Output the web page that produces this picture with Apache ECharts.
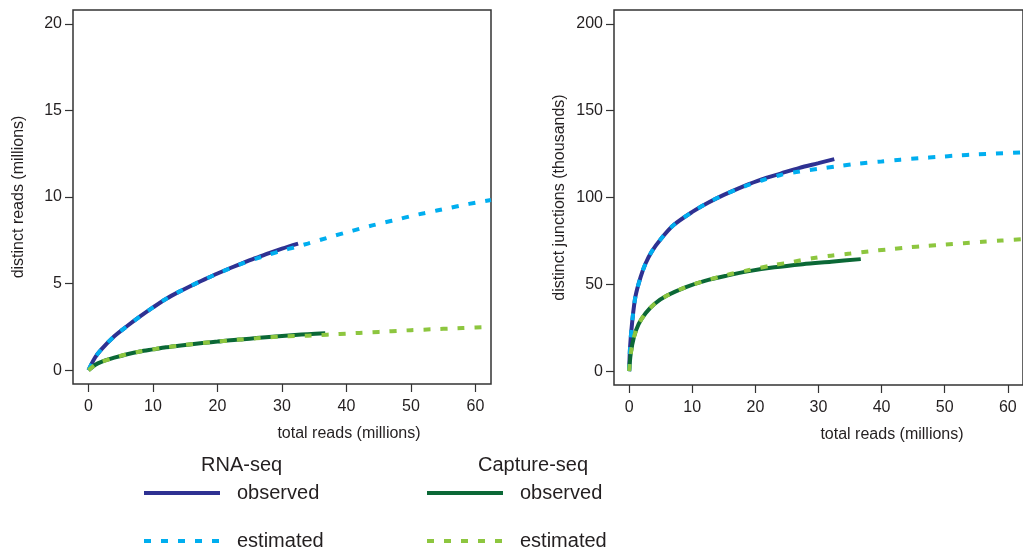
<!DOCTYPE html>
<html>
<head>
<meta charset="utf-8">
<title>Read and junction saturation</title>
<script src="https://cdn.jsdelivr.net/npm/echarts@6/dist/echarts.min.js"></script>
<style>
html, body { margin: 0; padding: 0; background: #fff; }
#chart { width: 1023px; height: 548px; }
</style>
</head>
<body>
<div id="chart"></div>
<script>
// tick labels
const xTicks = [0, 10, 20, 30, 40, 50, 60];
const readTicks = [0, 5, 10, 15, 20];
const junctionTicks = [0, 50, 100, 150, 200];

// left panel: distinct reads (millions) vs total reads (millions)
const rnaReadsObsX = [0, 1, 2, 4, 6, 8, 10, 12, 14, 16, 18, 20, 22, 24, 26, 28, 30, 32.5];
const rnaReadsObsY = [0, 0.72, 1.2, 1.96, 2.55, 3.1, 3.62, 4.11, 4.52, 4.89, 5.24, 5.58, 5.9, 6.2, 6.48, 6.76, 7.02, 7.31];
const rnaReadsEstX = [0, 1, 2, 4, 6, 8, 10, 12, 14, 16, 18, 20, 22, 24, 26, 28, 30, 32, 34, 36, 38, 40, 42, 44, 46, 48, 50, 52, 54, 56, 58, 60, 62.4];
const rnaReadsEstY = [0, 0.72, 1.2, 1.96, 2.55, 3.1, 3.62, 4.11, 4.52, 4.89, 5.24, 5.58, 5.89, 6.18, 6.44, 6.68, 6.9, 7.1, 7.31, 7.53, 7.75, 7.96, 8.16, 8.36, 8.54, 8.71, 8.9, 9.06, 9.22, 9.37, 9.53, 9.67, 9.83];
const capReadsObsX = [0, 1, 2, 4, 6, 8, 10, 12, 14, 16, 18, 20, 22, 24, 26, 28, 30, 32, 34, 36.7];
const capReadsObsY = [0, 0.3, 0.48, 0.72, 0.92, 1.08, 1.2, 1.32, 1.41, 1.5, 1.58, 1.65, 1.73, 1.79, 1.85, 1.91, 1.97, 2.03, 2.08, 2.13];
const capReadsEstX = [0, 1, 2, 4, 6, 8, 10, 12, 14, 16, 18, 20, 22, 24, 26, 28, 30, 32, 34, 36, 38, 40, 42, 44, 46, 48, 50, 52, 54, 56, 58, 60, 62.4];
const capReadsEstY = [0, 0.3, 0.48, 0.72, 0.92, 1.08, 1.2, 1.32, 1.41, 1.5, 1.58, 1.65, 1.72, 1.78, 1.84, 1.9, 1.95, 1.97, 1.99, 2.03, 2.07, 2.11, 2.15, 2.19, 2.23, 2.27, 2.31, 2.34, 2.37, 2.4, 2.43, 2.46, 2.49];

// right panel: distinct junctions (thousands) vs total reads (millions)
const rnaJuncObsX = [0, 0.15, 0.5, 1, 1.8, 2.6, 3.6, 5, 7, 10, 12.5, 15, 18, 21, 24, 27, 30, 32.5];
const rnaJuncObsY = [0, 14, 29, 43, 54, 62, 69, 76, 84, 91.7, 97, 101.5, 106.3, 110.5, 113.8, 117.1, 119.8, 122.1];
const rnaJuncEstX = [0, 0.15, 0.5, 1, 1.8, 2.6, 3.6, 5, 7, 10, 12.5, 15, 18, 21, 24, 27, 30, 33, 36, 40, 43, 46, 49, 52, 55, 58, 62.4];
const rnaJuncEstY = [0, 14, 29, 43, 54, 62, 69, 76, 84, 91.7, 97, 101.5, 106, 109.8, 113, 115, 116.5, 118, 119.4, 120.8, 121.8, 122.6, 123.4, 124.2, 124.8, 125.3, 126];
const capJuncObsX = [0, 0.25, 0.75, 1.5, 2.6, 4, 6, 9, 12, 15.5, 19, 23, 27.5, 32, 36.7];
const capJuncObsY = [0, 10, 19.5, 27, 33.3, 38.7, 43.5, 48.4, 52, 55, 57.6, 59.8, 61.6, 63, 64.5];
const capJuncEstX = [0, 0.25, 0.75, 1.5, 2.6, 4, 6, 9, 12, 15.5, 19, 23, 26, 29, 32, 35, 38, 41, 44, 47, 50, 53, 56, 59, 62.4];
const capJuncEstY = [0, 10, 19.5, 27, 33.3, 38.7, 43.5, 48.4, 52, 55.4, 58.2, 61.1, 63, 65, 66.5, 67.7, 69, 70.1, 71.2, 72.1, 72.9, 73.7, 74.5, 75.2, 76];

const pairs = (xs, ys) => xs.map((x, i) => [x, ys[i]]);

const FONT = '"Liberation Sans", Arial, Helvetica, sans-serif';
const TEXT = '#231f20';
const DARK_BLUE = '#2e3192';
const LIGHT_BLUE = '#00aeef';
const DARK_GREEN = '#0b6836';
const LIGHT_GREEN = '#8dc63f';
const DASH = [7, 10];

const chart = echarts.init(document.getElementById('chart'), null, { renderer: 'canvas' });

const xAxisFor = (gridIndex, padLeft) => ({
  gridIndex,
  type: 'value',
  min: -2.4,
  max: 62.4,
  axisLine: { show: false, onZero: false },
  axisTick: { show: true, length: 8, customValues: xTicks, lineStyle: { color: '#333', width: 1.2 } },
  axisLabel: { customValues: xTicks, margin: 15, fontSize: 16, color: TEXT, fontFamily: FONT },
  splitLine: { show: false },
  name: 'total reads (millions)',
  nameLocation: 'middle',
  nameGap: 42,
  nameTextStyle: { fontSize: 16, color: TEXT, fontFamily: FONT, padding: [0, 0, 0, padLeft] }
});

const yAxisFor = (gridIndex, name, ticks, min, max) => ({
  gridIndex,
  type: 'value',
  min,
  max,
  axisLine: { show: false, onZero: false },
  axisTick: { show: true, length: 8, customValues: ticks, lineStyle: { color: '#333', width: 1.2 } },
  axisLabel: { customValues: ticks, margin: 11, fontSize: 16, color: TEXT, fontFamily: FONT },
  splitLine: { show: false },
  name,
  nameLocation: 'middle',
  nameRotate: 90,
  nameGap: 46,
  nameTextStyle: { fontSize: 16, color: TEXT, fontFamily: FONT }
});

const lineSeries = (name, idx, data, color, dashed) => ({
  name,
  type: 'line',
  xAxisIndex: idx,
  yAxisIndex: idx,
  data,
  symbol: 'none',
  smooth: 0.3,
  animation: false,
  lineStyle: { width: 4, color, type: dashed ? DASH : 'solid', cap: 'butt' },
  itemStyle: { color }
});

// one legend per row so the rows can sit at the exact heights
const legendFor = (left, top, name, prefix) => ({
  data: [name],
  left,
  top,
  itemWidth: 76,
  itemHeight: 20,
  selectedMode: false,
  formatter: n => n.replace(prefix, ''),
  itemStyle: { opacity: 0 },
  lineStyle: { width: 4 },
  textStyle: { fontSize: 20, color: TEXT, fontFamily: FONT, padding: [0, 0, 0, 12] }
});

const option = {
  backgroundColor: '#fff',
  animation: false,
  title: [
    { text: 'RNA-seq', left: 201, top: 455, padding: 0, textStyle: { fontSize: 20, fontWeight: 'normal', color: TEXT, fontFamily: FONT } },
    { text: 'Capture-seq', left: 478, top: 455, padding: 0, textStyle: { fontSize: 20, fontWeight: 'normal', color: TEXT, fontFamily: FONT } }
  ],
  legend: [
    legendFor(137, 478, 'RNA-seq observed', 'RNA-seq '),
    legendFor(137, 526, 'RNA-seq estimated', 'RNA-seq '),
    legendFor(420, 478, 'Capture-seq observed', 'Capture-seq '),
    legendFor(420, 526, 'Capture-seq estimated', 'Capture-seq ')
  ],
  grid: [
    { left: 73, top: 10, width: 418, height: 374, show: true, borderColor: '#333', borderWidth: 1.5 },
    { left: 614, top: 10, width: 419, height: 375, show: true, borderColor: '#333', borderWidth: 1.5 }
  ],
  xAxis: [xAxisFor(0, 134), xAxisFor(1, 147)],
  yAxis: [
    yAxisFor(0, 'distinct reads (millions)', readTicks, -0.8, 20.8),
    yAxisFor(1, 'distinct junctions (thousands)', junctionTicks, -8, 208)
  ],
  series: [
    lineSeries('RNA-seq observed', 0, pairs(rnaReadsObsX, rnaReadsObsY), DARK_BLUE, false),
    lineSeries('Capture-seq observed', 0, pairs(capReadsObsX, capReadsObsY), DARK_GREEN, false),
    lineSeries('RNA-seq estimated', 0, pairs(rnaReadsEstX, rnaReadsEstY), LIGHT_BLUE, true),
    lineSeries('Capture-seq estimated', 0, pairs(capReadsEstX, capReadsEstY), LIGHT_GREEN, true),
    lineSeries('RNA-seq observed', 1, pairs(rnaJuncObsX, rnaJuncObsY), DARK_BLUE, false),
    lineSeries('Capture-seq observed', 1, pairs(capJuncObsX, capJuncObsY), DARK_GREEN, false),
    lineSeries('RNA-seq estimated', 1, pairs(rnaJuncEstX, rnaJuncEstY), LIGHT_BLUE, true),
    lineSeries('Capture-seq estimated', 1, pairs(capJuncEstX, capJuncEstY), LIGHT_GREEN, true)
  ]
};

chart.setOption(option);
</script>
</body>
</html>
